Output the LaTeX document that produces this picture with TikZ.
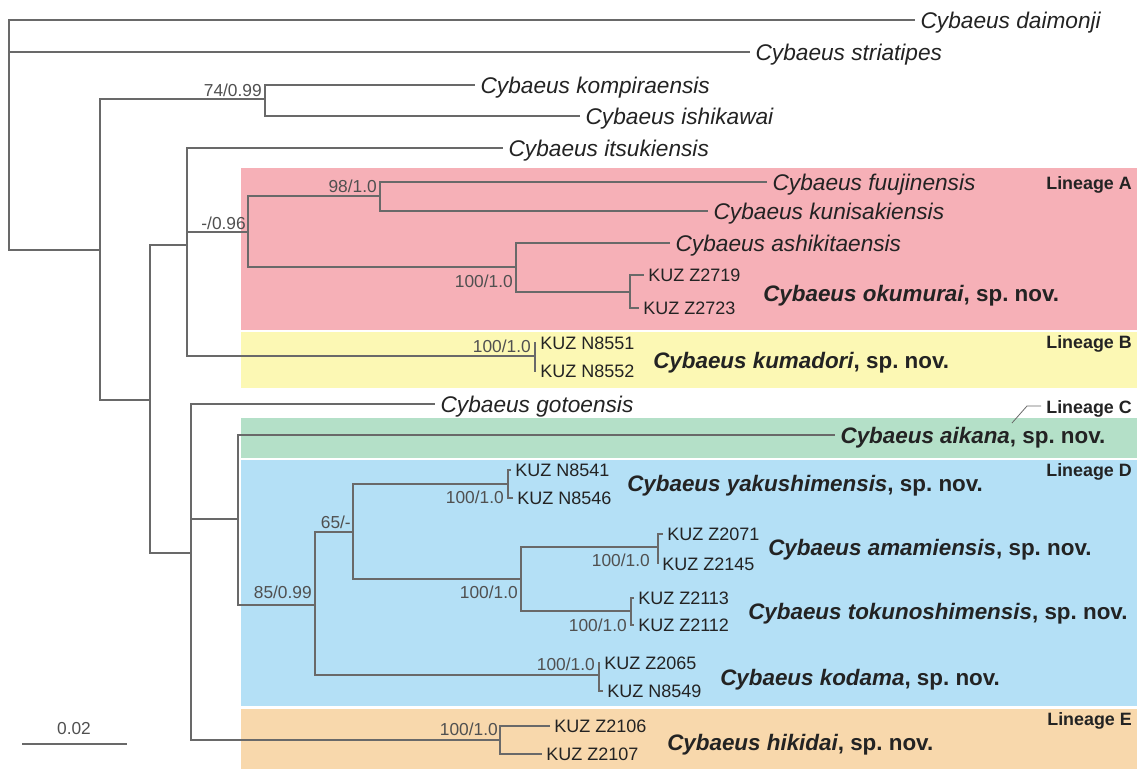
\documentclass[tikz,border=0pt]{standalone}
\usepackage{fontspec}
\setmainfont{Liberation Sans}
\definecolor{linA}{RGB}{246,176,183}
\definecolor{linB}{RGB}{252,248,180}
\definecolor{linC}{RGB}{180,224,200}
\definecolor{linD}{RGB}{180,224,246}
\definecolor{linE}{RGB}{248,216,172}
\definecolor{brgray}{RGB}{105,105,105}
\definecolor{txt}{RGB}{35,35,35}
\definecolor{supgray}{RGB}{80,80,80}
\newcommand\spnov[1]{\textit{Cybaeus #1}, sp.\ nov.}
\begin{document}
\begin{tikzpicture}[x=0.75pt,y=-0.75pt,
  br/.style={draw=brgray, line width=1pt},
  sp/.style={anchor=base west, inner sep=0pt, xshift=4pt, yshift=-6pt, font=\fontsize{17}{19}\selectfont\itshape, text=txt},
  nov/.style={anchor=base west, inner sep=0pt, yshift=-6pt, font=\fontsize{16.8}{19}\selectfont\bfseries, text=txt},
  kuz/.style={anchor=base west, inner sep=0pt, xshift=3pt, yshift=-4.8pt, font=\fontsize{13.5}{15}\selectfont, text=txt},
  sup/.style={anchor=base east, inner sep=0pt, font=\fontsize{13}{14}\selectfont, text=supgray},
  lin/.style={anchor=base east, inner sep=0pt, yshift=-4.8pt, font=\fontsize{13.4}{14}\selectfont\bfseries, text=txt}]
\useasboundingbox (0,0) rectangle (1140,769);
% lineage boxes
\fill[linA] (241,168) rectangle (1137,330);
\fill[linB] (241,332) rectangle (1137,388);
\fill[linC] (241,418) rectangle (1137,458);
\fill[linD] (241,459.5) rectangle (1137,706);
\fill[linE] (241,709) rectangle (1137,769);
% internal nodes
\coordinate (r) at (9,52);
\coordinate (m1) at (100,250);
\coordinate (kc) at (265,99);
\coordinate (m2) at (150,400);
\coordinate (m3) at (187,245);
\coordinate (lA) at (248,232);
\coordinate (a1) at (380,196);
\coordinate (a2) at (516,267);
\coordinate (oku) at (630,292);
\coordinate (lB) at (535,356);
\coordinate (m4) at (191,553);
\coordinate (m5) at (238,519);
\coordinate (lD) at (315,605);
\coordinate (d1) at (353,532);
\coordinate (yak) at (508,484);
\coordinate (d2) at (521,579);
\coordinate (ama) at (658,547);
\coordinate (tok) at (631,611);
\coordinate (kod) at (599,675);
\coordinate (lE) at (500,740);
% tips
\coordinate (tDai) at (915,20);
\coordinate (tStr) at (750,52);
\coordinate (tKom) at (475,85);
\coordinate (tIsh) at (580,116);
\coordinate (tIts) at (503,148);
\coordinate (tFuu) at (767,182);
\coordinate (tKun) at (708,211);
\coordinate (tAsh) at (670,243);
\coordinate (tGot) at (435,404);
\coordinate (tAik) at (835,435);
\coordinate (k2719) at (644,275);
\coordinate (k2723) at (639,308);
\coordinate (k8551) at (536,343);
\coordinate (k8552) at (536,371);
\coordinate (k8541) at (511,470);
\coordinate (k8546) at (513,498);
\coordinate (k2071) at (663,534);
\coordinate (k2145) at (658,564);
\coordinate (k2113) at (634,598);
\coordinate (k2112) at (634,625);
\coordinate (k2065) at (600,663);
\coordinate (k8549) at (603,691);
\coordinate (k2106) at (550,726);
\coordinate (k2107) at (542,754);
% branches
\draw[br] (r) |- (tDai);
\draw[br] (r) -- (tStr);
\draw[br] (r) |- (m1);
\draw[br] (m1) |- (kc);
\draw[br] (m1) |- (m2);
\draw[br] (kc) |- (tKom);
\draw[br] (kc) |- (tIsh);
\draw[br] (m2) |- (m3);
\draw[br] (m2) |- (m4);
\draw[br] (m3) |- (tIts);
\draw[br] (m3) |- (lA);
\draw[br] (m3) |- (lB);
\draw[br] (lA) |- (a1);
\draw[br] (lA) |- (a2);
\draw[br] (a1) |- (tFuu);
\draw[br] (a1) |- (tKun);
\draw[br] (a2) |- (tAsh);
\draw[br] (a2) |- (oku);
\draw[br] (oku) |- (k2719);
\draw[br] (oku) |- (k2723);
\draw[br] (lB) |- (k8551);
\draw[br] (lB) |- (k8552);
\draw[br] (m4) |- (tGot);
\draw[br] (m4) |- (m5);
\draw[br] (m4) |- (lE);
\draw[br] (m5) |- (tAik);
\draw[br] (m5) |- (lD);
\draw[br] (lD) |- (d1);
\draw[br] (lD) |- (kod);
\draw[br] (d1) |- (yak);
\draw[br] (d1) |- (d2);
\draw[br] (yak) |- (k8541);
\draw[br] (yak) |- (k8546);
\draw[br] (d2) |- (ama);
\draw[br] (d2) |- (tok);
\draw[br] (ama) |- (k2071);
\draw[br] (ama) |- (k2145);
\draw[br] (tok) |- (k2113);
\draw[br] (tok) |- (k2112);
\draw[br] (kod) |- (k2065);
\draw[br] (kod) |- (k8549);
\draw[br] (lE) |- (k2106);
\draw[br] (lE) |- (k2107);
% tip labels
\node[sp] (nDai) at (tDai) {Cybaeus daimonji};
\node[sp] (nStr) at (tStr) {Cybaeus striatipes};
\node[sp] (nKom) at (tKom) {Cybaeus kompiraensis};
\node[sp] (nIsh) at (tIsh) {Cybaeus ishikawai};
\node[sp] (nIts) at (tIts) {Cybaeus itsukiensis};
\node[sp] (nFuu) at (tFuu) {Cybaeus fuujinensis};
\node[sp] (nKun) at (tKun) {Cybaeus kunisakiensis};
\node[sp] (nAsh) at (tAsh) {Cybaeus ashikitaensis};
\node[sp] (nGot) at (tGot) {Cybaeus gotoensis};
\node[nov, xshift=4pt] (nAik) at (tAik) {\spnov{aikana}};
\node[kuz] (n2719) at (k2719) {KUZ Z2719};
\node[kuz] (n2723) at (k2723) {KUZ Z2723};
\node[kuz] (n8551) at (k8551) {KUZ N8551};
\node[kuz] (n8552) at (k8552) {KUZ N8552};
\node[kuz] (n8541) at (k8541) {KUZ N8541};
\node[kuz] (n8546) at (k8546) {KUZ N8546};
\node[kuz] (n2071) at (k2071) {KUZ Z2071};
\node[kuz] (n2145) at (k2145) {KUZ Z2145};
\node[kuz] (n2113) at (k2113) {KUZ Z2113};
\node[kuz] (n2112) at (k2112) {KUZ Z2112};
\node[kuz] (n2065) at (k2065) {KUZ Z2065};
\node[kuz] (n8549) at (k8549) {KUZ N8549};
\node[kuz] (n2106) at (k2106) {KUZ Z2106};
\node[kuz] (n2107) at (k2107) {KUZ Z2107};
% new species names
\node[nov] (sOku) at (763,293) {\spnov{okumurai}};
\node[nov] (sKum) at (653,360) {\spnov{kumadori}};
\node[nov] (sYak) at (627,483) {\spnov{yakushimensis}};
\node[nov] (sAma) at (768,547) {\spnov{amamiensis}};
\node[nov] (sTok) at (748,611) {\spnov{tokunoshimensis}};
\node[nov] (sKod) at (720,677) {\spnov{kodama}};
\node[nov] (sHik) at (667,742) {\spnov{hikidai}};
% support values
\node[sup] (s1) at (262,96) {74/0.99};
\node[sup] (s2) at (246,229) {-/0.96};
\node[sup] (s3) at (377,192) {98/1.0};
\node[sup] (s4) at (513,287) {100/1.0};
\node[sup] (s5) at (531,352) {100/1.0};
\node[sup] (s6) at (312,598) {85/0.99};
\node[sup] (s7) at (351,528) {65/-};
\node[sup] (s8) at (504,503) {100/1.0};
\node[sup] (s9) at (518,598) {100/1.0};
\node[sup] (s10) at (650,566) {100/1.0};
\node[sup] (s11) at (627,631) {100/1.0};
\node[sup] (s12) at (595,670) {100/1.0};
\node[sup] (s13) at (498,735) {100/1.0};
% lineage labels
\node[lin] (LA) at (1132,183) {Lineage A};
\node[lin] (LB) at (1132,342) {Lineage B};
\node[lin] (LC) at (1132,407) {Lineage C};
\node[lin] (LD) at (1132,470) {Lineage D};
\node[lin] (LE) at (1132,719) {Lineage E};
\coordinate (cA) at (1012,423);
\coordinate (cB) at (1027,406);
\coordinate (cC) at (1041,406);
\draw[draw=brgray, line width=0.6pt] (cA) -- (cB) -- (cC);
% scale bar
\coordinate (sb1) at (22,744);
\coordinate (sb2) at (127,744);
\draw[br, line width=1.2pt] (sb1) -- (sb2);
\node[sup, anchor=base] (sbl) at (74,734) {0.02};
\end{tikzpicture}
\end{document}
